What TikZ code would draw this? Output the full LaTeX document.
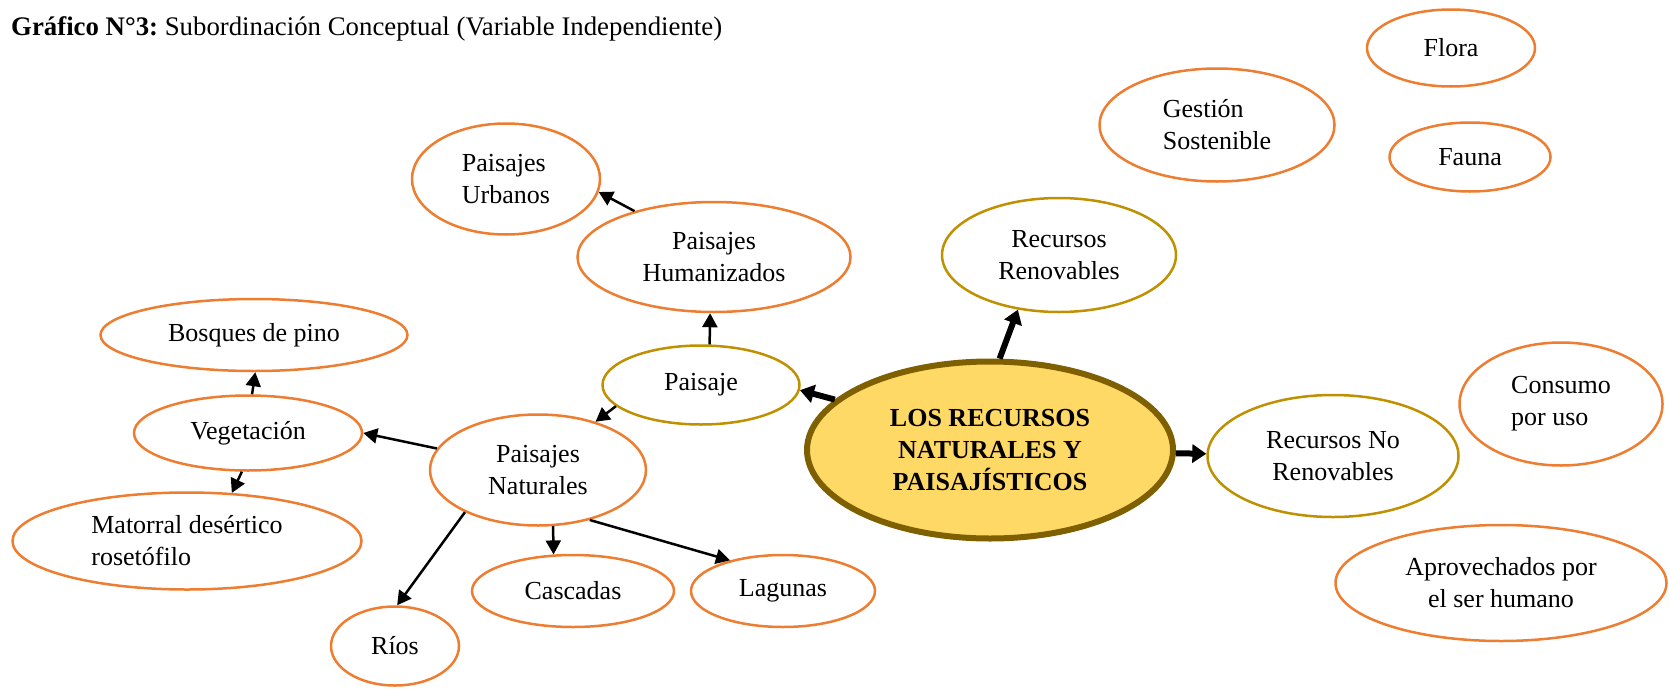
\documentclass[tikz,border=0pt]{standalone}
\usepackage{fontspec}
\setmainfont{Liberation Serif}
\usepackage{tikz}
\usetikzlibrary{shapes.geometric,arrows.meta}
\definecolor{naranja}{HTML}{ED7D31}
\definecolor{dorado}{HTML}{BF9000}
\definecolor{amarillo}{HTML}{FFD966}
\definecolor{marron}{HTML}{7F6000}
\frenchspacing

\begin{document}
\begin{tikzpicture}[x=1pt,y=-1pt,
  every node/.style={font=\fontsize{26}{32}\selectfont, inner sep=0pt},
  hoja/.style={ellipse, draw=naranja, line width=2.5pt, align=center},
  rama/.style={ellipse, draw=dorado, line width=2.5pt, align=center},
  raiz/.style={ellipse, draw=marron, fill=amarillo, line width=6pt, align=center, font=\fontsize{26}{32}\selectfont\bfseries},
  flecha/.style={line width=2.5pt, -{Triangle[length=14pt,width=15pt]}},
  flechagruesa/.style={line width=6pt, -{Triangle[length=14pt,width=18pt]}}]
  \useasboundingbox (0,0) rectangle (1669,688);
  % -=-=-=-=- TITULO -=-=-=-=-
  \node[anchor=base west, font=\fontsize{26.8}{32}\selectfont] (titulo) at (11,35) {\textbf{Gráfico N°3:} Subordinación Conceptual (Variable Independiente)};
  % -=-=-=-=- NODOS -=-=-=-=-
  \node[raiz, minimum width=366pt, minimum height=177pt] (centro) at (990,450) {LOS RECURSOS\\NATURALES Y\\PAISAJÍSTICOS};
  \node[rama, minimum width=197pt, minimum height=79pt] (paisaje) at (701,385) {Paisaje};
  \node[rama, minimum width=234pt, minimum height=114pt] (recren) at (1059,255) {Recursos\\Renovables};
  \node[rama, minimum width=251pt, minimum height=122pt] (recnoren) at (1333,456) {Recursos No\\Renovables};
  \node[hoja, minimum width=168pt, minimum height=77pt] (flora) at (1451,48) {Flora};
  \node[hoja, minimum width=161pt, minimum height=69pt] (fauna) at (1470,157) {Fauna};
  \node[hoja, align=left, minimum width=235pt, minimum height=113pt] (gestion) at (1217,125) {Gestión\\Sostenible};
  \node[hoja, align=left, minimum width=203pt, minimum height=123pt] (consumo) at (1561,404) {Consumo\\por uso};
  \node[hoja, minimum width=331pt, minimum height=116pt] (aprov) at (1501,583) {Aprovechados por\\el ser humano};
  \node[hoja, minimum width=273pt, minimum height=110pt] (humaniz) at (714,257) {Paisajes\\Humanizados};
  \node[hoja, align=left, minimum width=188pt, minimum height=111pt] (urbanos) at (506,179) {Paisajes\\Urbanos};
  \node[hoja, minimum width=216pt, minimum height=111pt] (naturales) at (538,470) {Paisajes\\Naturales};
  \node[hoja, minimum width=307pt, minimum height=72pt] (bosques) at (254,335) {Bosques de pino};
  \node[hoja, minimum width=228pt, minimum height=75pt] (vegetacion) at (248,433) {Vegetación};
  \node[hoja, align=left, minimum width=349pt, minimum height=97pt] (matorral) at (187,541) {Matorral desértico\\rosetófilo};
  \node[hoja, minimum width=202pt, minimum height=72pt] (cascadas) at (573,591) {Cascadas};
  \node[hoja, minimum width=184pt, minimum height=72pt] (lagunas) at (783,591) {Lagunas};
  \node[hoja, minimum width=128pt, minimum height=79pt] (rios) at (395,646) {Ríos};
  % -=-=-=-=- FLECHAS -=-=-=-=-
  \draw[flechagruesa] (centro.162) -- (paisaje.-3);
  \draw[flechagruesa] (centro.84) -- (recren.233);
  \draw[flechagruesa] (centro.-1) -- (recnoren.179);
  \draw[flecha] (paisaje.78) -- (humaniz.266);
  \draw[flecha] (humaniz.150) -- (urbanos.-8);
  \draw[flecha] (paisaje.194) -- (naturales.40);
  \draw[flecha] (naturales.168) -- (vegetacion.0);
  \draw[flecha] (vegetacion.84) -- (bosques.272);
  \draw[flecha] (vegetacion.261) -- (matorral.47);
  \draw[flecha] (naturales.285) -- (cascadas.118);
  \draw[flecha] (naturales.316) -- (lagunas.150);
  \draw[flecha] (naturales.210) -- (rios.87);
\end{tikzpicture}
\end{document}
